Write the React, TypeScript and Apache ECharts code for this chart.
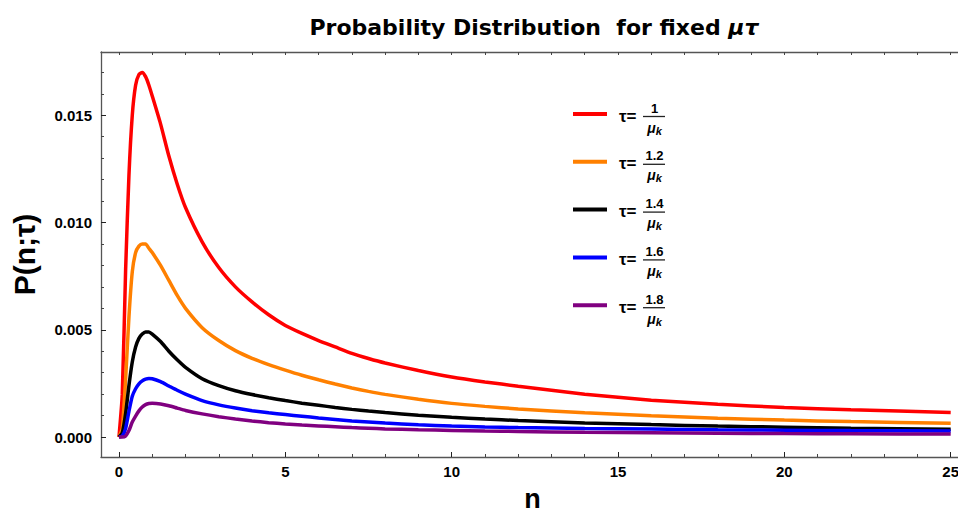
import React, { useEffect, useRef } from "react";
import * as echarts from "echarts";

const nValues = [0, 0.1, 0.2, 0.3, 0.4, 0.5, 0.6, 0.7, 0.8, 0.9, 1.0, 1.25, 1.5, 1.75, 2, 2.5, 3, 3.5, 4, 4.5, 5, 5.5, 6, 6.5, 7, 7.5, 8, 9, 10, 11, 12, 14, 16, 18, 20, 22, 25];

const tau10 = [0, 0.0020, 0.0078, 0.0122, 0.0150, 0.0164, 0.0169, 0.0170, 0.0168, 0.0164, 0.0159, 0.0146, 0.0131, 0.0118, 0.0107, 0.0091, 0.0079, 0.0070, 0.0063, 0.0057, 0.0052, 0.00483, 0.0045, 0.0042, 0.0039, 0.00366, 0.00345, 0.0031, 0.0028, 0.00257, 0.00237, 0.0020, 0.00172, 0.00153, 0.00138, 0.00127, 0.00115];
const tau12 = [0, 0.0004, 0.0027, 0.0056, 0.0077, 0.0086, 0.0089, 0.0090, 0.0090, 0.0088, 0.0086, 0.0080, 0.0073, 0.0066, 0.0060, 0.0051, 0.0045, 0.00403, 0.00367, 0.00338, 0.00312, 0.00288, 0.00267, 0.00247, 0.00229, 0.00213, 0.00199, 0.00176, 0.00157, 0.00143, 0.00131, 0.00113, 0.00099, 0.00088, 0.00079, 0.00072, 0.00064];
const tau14 = [0, 0.0002, 0.0011, 0.0024, 0.0035, 0.0042, 0.0046, 0.0048, 0.0049, 0.0049, 0.0048, 0.00445, 0.0040, 0.0036, 0.00325, 0.00272, 0.0024, 0.00216, 0.00198, 0.00183, 0.0017, 0.00158, 0.00148, 0.00138, 0.00129, 0.00121, 0.00114, 0.00102, 0.00092, 0.00084, 0.00077, 0.00066, 0.00058, 0.00051, 0.00046, 0.00041, 0.00036];
const tau16 = [0, 0.00005, 0.0004, 0.0012, 0.0019, 0.00225, 0.00248, 0.00262, 0.0027, 0.00273, 0.00272, 0.00258, 0.00238, 0.00218, 0.0020, 0.0017, 0.0015, 0.00135, 0.00123, 0.00113, 0.00105, 0.00097, 0.00089, 0.00082, 0.00075, 0.0007, 0.00065, 0.00057, 0.00051, 0.00047, 0.00044, 0.0004, 0.00037, 0.00034, 0.00032, 0.0003, 0.00028];
const tau18 = [0, 0, 0.00005, 0.0003, 0.0007, 0.00098, 0.00122, 0.0014, 0.00151, 0.00156, 0.00157, 0.00154, 0.00146, 0.00135, 0.00124, 0.00108, 0.00095, 0.00084, 0.00075, 0.00067, 0.00061, 0.00056, 0.00052, 0.00048, 0.00044, 0.00041, 0.00038, 0.00034, 0.00031, 0.00028, 0.00026, 0.00022, 0.0002, 0.00018, 0.00016, 0.00015, 0.00014];

const seriesNames = ["τ=1/μk", "τ=1.2/μk", "τ=1.4/μk", "τ=1.6/μk", "τ=1.8/μk"];
const numerators = ["1", "1.2", "1.4", "1.6", "1.8"];
const seriesColors = ["#ff0000", "#ff8000", "#000000", "#0000ff", "#800080"];
const seriesData = [tau10, tau12, tau14, tau16, tau18];

const xMajor = [0, 5, 10, 15, 20, 25];
const xMinor = [1, 2, 3, 4, 6, 7, 8, 9, 11, 12, 13, 14, 16, 17, 18, 19, 21, 22, 23, 24];
const yMajor = [0, 0.005, 0.01, 0.015];
const yMinor = [0.001, 0.002, 0.003, 0.004, 0.006, 0.007, 0.008, 0.009, 0.011, 0.012, 0.013, 0.014, 0.016, 0.017];

const X_MIN = -0.54;
const X_MAX = 25.4;
const Y_MIN = -0.00093;
const Y_MAX = 0.01795;

const FRAME = "#555555";
const FONT = "'Liberation Sans', Arial, sans-serif";

export default function App() {
  const ref = useRef<HTMLDivElement>(null);
  useEffect(() => {
    if (!ref.current) return;
    const chart = echarts.init(ref.current, null, { renderer: "svg" });

    const baseX = {
      type: "value" as const,
      min: X_MIN,
      max: X_MAX,
      splitLine: { show: false },
    };
    const baseY = {
      type: "value" as const,
      min: Y_MIN,
      max: Y_MAX,
      splitLine: { show: false },
    };

    const legendGraphics: any[] = [];
    seriesNames.forEach((name, i) => {
      const y0 = 114 + i * 47.8;
      legendGraphics.push({
        type: "line",
        shape: { x1: 573, y1: y0, x2: 607, y2: y0 },
        style: { stroke: seriesColors[i], lineWidth: 4 },
      });
      legendGraphics.push({
        type: "text",
        x: 619,
        y: y0 + 2,
        style: {
          text: "τ=",
          font: `bold 17px ${FONT}`,
          fill: "#000",
          verticalAlign: "middle",
          align: "left",
        },
      });
      legendGraphics.push({
        type: "line",
        shape: { x1: 643, y1: y0 + 2.5, x2: 665, y2: y0 + 2.5 },
        style: { stroke: "#222", lineWidth: 1.3 },
      });
      legendGraphics.push({
        type: "text",
        x: 654.5,
        y: y0 + 0.5,
        style: {
          text: numerators[i],
          font: `bold 13px ${FONT}`,
          fill: "#000",
          align: "center",
          verticalAlign: "bottom",
        },
      });
      legendGraphics.push({
        type: "text",
        x: 654.5,
        y: y0 + 5,
        style: {
          text: "{m|μ}{k|k}",
          align: "center",
          verticalAlign: "top",
          rich: {
            m: { font: `bold italic 14px ${FONT}`, fill: "#000" },
            k: { font: `bold italic 11px ${FONT}`, fill: "#000", padding: [6, 0, 0, 0] },
          },
        },
      });
    });

    chart.setOption({
      animation: false,
      backgroundColor: "#ffffff",
      title: {
        text: "{a|Probability Distribution  for fixed }{b|μτ}",
        left: 529,
        top: 11,
        textAlign: "center",
        textStyle: {
          rich: {
            a: { fontFamily: "'DejaVu Sans', sans-serif", fontWeight: "bold", fontSize: 22, color: "#000" },
            b: { fontFamily: "'DejaVu Sans', sans-serif", fontWeight: "bold", fontStyle: "italic", fontSize: 22, color: "#000" },
          },
        },
      },
      grid: { left: 101, right: -6, top: 52, bottom: 53, containLabel: false, outerBoundsMode: "none" },
      xAxis: [
        {
          ...baseX,
          position: "bottom",
          name: "n",
          nameLocation: "middle",
          nameGap: 28,
          nameTextStyle: { fontFamily: FONT, fontWeight: "bold", fontSize: 27, color: "#000" },
          axisLine: { show: true, onZero: false, lineStyle: { color: FRAME, width: 1.3 } },
          axisTick: { show: true, inside: true, length: 5, customValues: xMajor, lineStyle: { color: "#222", width: 1 } },
          axisLabel: {
            customValues: xMajor,
            fontFamily: "'Liberation Sans Narrow', 'Liberation Sans', sans-serif",
            fontWeight: "bold",
            fontSize: 15,
            color: "#000",
            margin: 7,
            formatter: (v: number) => String(Math.round(v)),
          },
        },
        {
          ...baseX,
          position: "bottom",
          axisLine: { show: false, onZero: false },
          axisTick: { show: true, inside: true, length: 3, customValues: xMinor, lineStyle: { color: "#444", width: 1 } },
          axisLabel: { show: false },
        },
        {
          ...baseX,
          position: "top",
          axisLine: { show: true, onZero: false, lineStyle: { color: FRAME, width: 1.3 } },
          axisTick: { show: true, inside: true, length: 3, customValues: [...xMajor, ...xMinor], lineStyle: { color: "#444", width: 1 } },
          axisLabel: { show: false },
        },
      ],
      yAxis: [
        {
          ...baseY,
          position: "left",
          name: "P(n;τ)",
          nameLocation: "middle",
          nameGap: 62,
          nameRotate: 90,
          nameTextStyle: { fontFamily: FONT, fontWeight: "bold", fontSize: 30, color: "#000" },
          axisLine: { show: true, onZero: false, lineStyle: { color: FRAME, width: 1.3 } },
          axisTick: { show: true, inside: true, length: 5, customValues: yMajor, lineStyle: { color: "#222", width: 1 } },
          axisLabel: {
            customValues: yMajor,
            fontFamily: FONT,
            fontWeight: "bold",
            fontSize: 15,
            color: "#000",
            margin: 9,
            formatter: (v: number) => v.toFixed(3),
          },
        },
        {
          ...baseY,
          position: "left",
          axisLine: { show: false, onZero: false },
          axisTick: { show: true, inside: true, length: 3, customValues: yMinor, lineStyle: { color: "#444", width: 1 } },
          axisLabel: { show: false },
        },
      ],
      series: seriesNames.map((name, i) => ({
        name,
        type: "line",
        xAxisIndex: 0,
        yAxisIndex: 0,
        showSymbol: false,
        smooth: 0.2,
        clip: true,
        lineStyle: { color: seriesColors[i], width: 3.5 },
        itemStyle: { color: seriesColors[i] },
        data: nValues.map((n, j) => [n, seriesData[i][j]]),
      })),
      graphic: legendGraphics,
    });

    return () => chart.dispose();
  }, []);

  return (
    <div
      ref={ref}
      style={{ position: "fixed", left: 0, top: 0, width: 958, height: 510, background: "#fff" }}
    />
  );
}
